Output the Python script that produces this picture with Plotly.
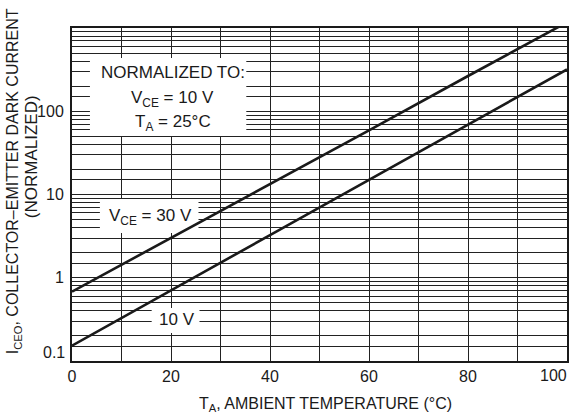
import plotly.graph_objects as go

# ---- data ----
temps = [0, 20, 40, 60, 80, 100]
iceo_30v = [0.68, 3.0, 13.4, 59, 265, 1170]
iceo_10v = [0.153, 0.70, 3.25, 15.0, 69, 318]

x_ticks = list(range(0, 101, 10))
x_labels = [str(v) if (v % 20 == 0 and v < 100) else "" for v in x_ticks]
grid_mult = [1, 1.5, 2, 3, 4, 5, 6, 7, 8, 9]
decades = [0.1, 1, 10, 100]
y_ticks = [round(d * m, 4) for d in decades for m in grid_mult] + [1000]
y_label_map = {1: "1", 10: "10", 100: "100"}
y_labels = [y_label_map.get(v, "") for v in y_ticks]

FONT = "Liberation Sans, Arial, Helvetica, sans-serif"
INK = "#1a1a1a"

W, H = 572, 419
L, R, T, B = 72, 569, 28, 361
X0, X1 = 0, 100
LY0, LY1 = -1, 3


def px(xp):
    return (xp - L) / (R - L)


def py(yp):
    return (B - yp) / (B - T)


def xd(xp):
    return X0 + px(xp) * (X1 - X0)


def yd(yp):
    return 10 ** (LY0 + py(yp) * (LY1 - LY0))


fig = go.Figure()
fig.add_trace(go.Scatter(x=temps, y=iceo_30v, mode="lines",
                         line=dict(color=INK, width=2.6), showlegend=False))
fig.add_trace(go.Scatter(x=temps, y=iceo_10v, mode="lines",
                         line=dict(color=INK, width=2.6), showlegend=False))

# white label backgrounds (above grid, below curves)
boxes = [(90, 58, 247, 136), (100, 199, 199, 233), (152, 308, 200, 333)]
for x0, y0, x1, y1 in boxes:
    fig.add_shape(type="rect", xref="x", yref="y",
                  x0=xd(x0), x1=xd(x1), y0=yd(y1), y1=yd(y0),
                  fillcolor="white", line=dict(width=0), layer="between")

texts = [
    ("NORMALIZED TO:", 173, 73),
    ("V<sub>CE</sub> = 10 V", 173, 99),
    ("T<sub>A</sub> = 25°C", 173, 123),
    ("V<sub>CE</sub> = 30 V", 151, 217),
    ("10 V", 177, 319),
]
for txt, xp, yp in texts:
    fig.add_annotation(text=txt, xref="paper", yref="paper", x=px(xp), y=py(yp),
                       xanchor="center", yanchor="middle", showarrow=False,
                       font=dict(family=FONT, size=17, color=INK))

# edge tick labels placed as in the reference
fig.add_annotation(text="0.1", xref="paper", yref="paper", x=px(67), y=py(352),
                   xanchor="right", yanchor="middle", showarrow=False,
                   font=dict(family=FONT, size=16, color=INK))
fig.add_annotation(text="100", xref="paper", yref="paper", x=px(571), y=py(375),
                   xanchor="right", yanchor="middle", showarrow=False,
                   font=dict(family=FONT, size=16, color=INK))

# axis titles
fig.add_annotation(text="T<sub>A</sub>, AMBIENT TEMPERATURE (°C)", xref="paper", yref="paper",
                   x=px(327), y=py(405), xanchor="center", yanchor="middle", showarrow=False,
                   font=dict(family=FONT, size=16, color=INK))
fig.add_annotation(text="I<sub>CEO</sub>, COLLECTOR\u2013EMITTER DARK CURRENT", xref="paper", yref="paper",
                   x=px(13), y=py(181), xanchor="center", yanchor="middle", showarrow=False,
                   textangle=-90, font=dict(family=FONT, size=16, color=INK))
fig.add_annotation(text="(NORMALIZED)", xref="paper", yref="paper",
                   x=px(31), y=py(157), xanchor="center", yanchor="middle", showarrow=False,
                   textangle=-90, font=dict(family=FONT, size=17, color=INK))

fig.update_xaxes(range=[X0, X1], tickvals=x_ticks, ticktext=x_labels,
                 showgrid=True, gridcolor="#222222", gridwidth=1.4,
                 showline=True, linecolor=INK, linewidth=2, mirror=True,
                 ticks="", zeroline=False,
                 tickfont=dict(family=FONT, size=16, color=INK))
fig.update_yaxes(type="log", range=[LY0, LY1], tickvals=y_ticks, ticktext=y_labels,
                 showgrid=True, gridcolor="#222222", gridwidth=1.2,
                 showline=True, linecolor=INK, linewidth=2, mirror=True,
                 ticks="", zeroline=False, ticklabelstandoff=3,
                 tickfont=dict(family=FONT, size=16, color=INK))

fig.update_layout(width=W, height=H, margin=dict(l=L, r=W - R, t=T, b=H - B),
                  plot_bgcolor="white", paper_bgcolor="white")

fig.write_html("out.html")
